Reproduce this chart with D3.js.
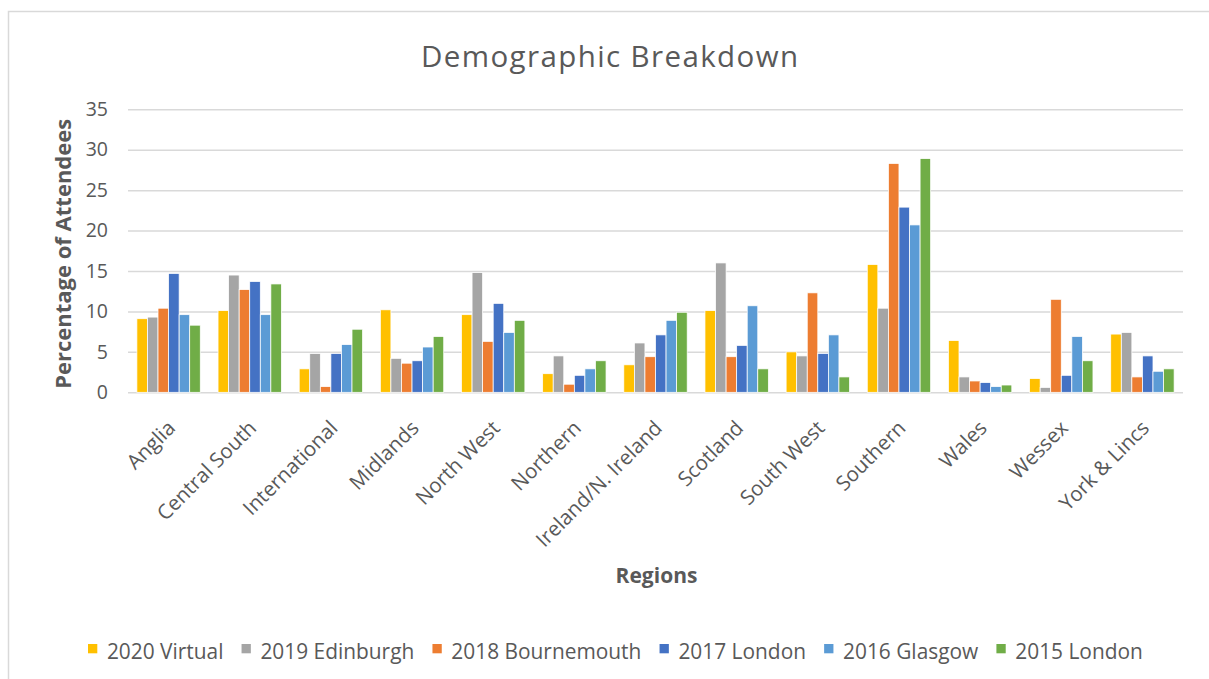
<!DOCTYPE html>
<html>
<head>
<meta charset="utf-8">
<script src="https://cdn.jsdelivr.net/npm/d3@7"></script>
<style>
  html, body { margin: 0; padding: 0; background: #fff; }
  svg { display: block; }
  text { font-family: "Open Sans", "Liberation Sans", sans-serif; fill: #595959; }
</style>
</head>
<body>
<svg id="chart" width="1209" height="679"></svg>
<script>
// ---- Data ----
const regions = ["Anglia", "Central South", "International", "Midlands", "North West", "Northern",
  "Ireland/N. Ireland", "Scotland", "South West", "Southern", "Wales", "Wessex", "York & Lincs"];
const seriesNames = ["2020 Virtual", "2019 Edinburgh", "2018 Bournemouth", "2017 London", "2016 Glasgow", "2015 London"];
const v2020 = [9.1, 10.1, 2.9, 10.2, 9.6, 2.3, 3.4, 10.1, 5.0, 15.8, 6.4, 1.7, 7.2];
const v2019 = [9.3, 14.5, 4.8, 4.2, 14.8, 4.5, 6.1, 16.0, 4.5, 10.4, 1.9, 0.6, 7.4];
const v2018 = [10.4, 12.7, 0.7, 3.6, 6.3, 1.0, 4.4, 4.4, 12.3, 28.3, 1.4, 11.5, 1.9];
const v2017 = [14.7, 13.7, 4.8, 3.9, 11.0, 2.1, 7.1, 5.8, 4.8, 22.9, 1.2, 2.1, 4.5];
const v2016 = [9.6, 9.6, 5.9, 5.6, 7.4, 2.9, 8.9, 10.7, 7.1, 20.7, 0.7, 6.9, 2.6];
const v2015 = [8.3, 13.4, 7.8, 6.9, 8.9, 3.9, 9.9, 2.9, 1.9, 28.9, 0.9, 3.9, 2.9];
const yTicks = [0, 5, 10, 15, 20, 25, 30, 35];
const colors = ["#FFC000", "#A5A5A5", "#ED7D31", "#4472C4", "#5B9BD5", "#70AD47"];
const allSeries = [v2020, v2019, v2018, v2017, v2016, v2015];

const svg = d3.select("#chart");

// chart border
svg.append("rect").attr("x", 8.5).attr("y", 11.5).attr("width", 1215).attr("height", 690)
  .attr("fill", "none").attr("stroke", "#d9d9d9").attr("stroke-width", 1.5);

const plot = { left: 128, right: 1183, top: 109.3, bottom: 392.3 };

const x0 = d3.scaleBand().domain(regions).range([plot.left, plot.right])
  .paddingInner(0.219).paddingOuter(0.1095);
const x1 = d3.scaleBand().domain(seriesNames).range([0, x0.bandwidth()]);
const y = d3.scaleLinear().domain([0, 35]).range([plot.bottom, plot.top]);

// gridlines
const yAxis = d3.axisLeft(y).tickValues(yTicks).tickSize(-(plot.right - plot.left)).tickPadding(20);
const gy = svg.append("g").attr("transform", `translate(${plot.left},0)`).call(yAxis);
gy.select(".domain").remove();
gy.selectAll(".tick line").attr("stroke", "#d9d9d9").attr("stroke-width", 1.5);
gy.selectAll(".tick text").style("font-size", "19.5px").attr("fill", "#595959");

// bars
const groups = svg.append("g").selectAll("g").data(regions).join("g")
  .attr("transform", d => `translate(${x0(d)},0)`);
groups.selectAll("rect")
  .data((r, i) => seriesNames.map((s, k) => ({ s, k, v: allSeries[k][i] })))
  .join("rect")
  .attr("x", d => x1(d.s))
  .attr("width", x1.bandwidth())
  .attr("y", d => y(d.v))
  .attr("height", d => y(0) - y(d.v))
  .attr("fill", d => colors[d.k])
  .attr("stroke", "#fff").attr("stroke-width", 0.75);

// x axis
const xAxis = d3.axisBottom(x0).tickSize(0).tickPadding(0);
const gx = svg.append("g").attr("transform", `translate(0,${plot.bottom})`).call(xAxis);
gx.select(".domain").remove();
gx.selectAll(".tick text")
  .style("font-size", "20.5px").attr("fill", "#595959")
  .attr("text-anchor", "end")
  .attr("dy", null).attr("y", 0)
  .attr("transform", "translate(8,37) rotate(-45)");

// title
svg.append("text").attr("x", 609.5).attr("y", 66.7).attr("text-anchor", "middle")
  .style("font-size", "29.5px").attr("textLength", 377).attr("lengthAdjust", "spacing")
  .text("Demographic Breakdown");

// axis titles
svg.append("text").attr("x", (plot.left + plot.right) / 2 + 1).attr("y", 583.3)
  .attr("text-anchor", "middle").style("font-size", "21px").style("font-weight", "bold")
  .text("Regions");
svg.append("text").attr("transform", `translate(71,${(plot.top + plot.bottom) / 2 + 3}) rotate(-90)`)
  .attr("text-anchor", "middle").style("font-size", "22px").style("font-weight", "bold")
  .text("Percentage of Attendees");

// legend
const legend = svg.append("g");
const lg = legend.selectAll("g").data(seriesNames).join("g");
const sq = 9.3, sqGap = 9.6, itemGap = 18, targetTotal = 1055;
lg.append("rect").attr("width", sq).attr("height", sq).attr("y", -15).attr("fill", (d, i) => colors[i]);
const lt = lg.append("text").attr("x", sq + sqGap).attr("y", 0).style("font-size", "19px").text(d => d);
let tw = [];
lt.each(function () { tw.push(this.getComputedTextLength()); });
const fixed = seriesNames.length * (sq + sqGap) + itemGap * (seriesNames.length - 1);
const k = (targetTotal - fixed) / d3.sum(tw);
lt.style("font-size", (19 * k) + "px");
tw = tw.map(w => w * k);
let cx = 615.5 - targetTotal / 2;
lg.attr("transform", (d, i) => { const t = `translate(${cx},659)`; cx += sq + sqGap + tw[i] + itemGap; return t; });
</script>
</body>
</html>
